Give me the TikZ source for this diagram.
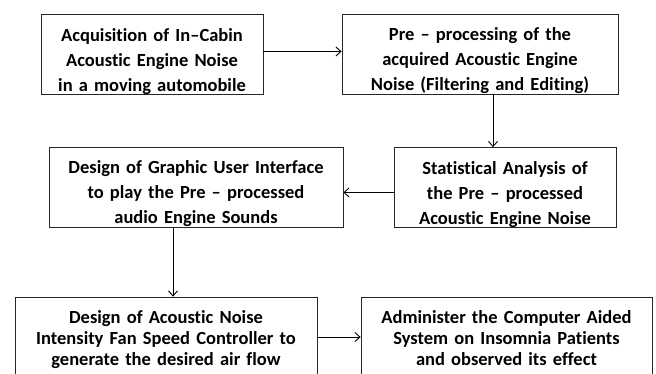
\documentclass[tikz,border=0pt]{standalone}
\usepackage{fontspec}
\setmainfont{Carlito}[Ligatures=NoCommon]
\usetikzlibrary{arrows.meta}
\tikzset{
  stage/.style={draw=black!85, line width=0.8pt, align=center, inner xsep=2pt, inner ysep=0pt,
    text height=27pt, text depth=53pt, font=\fontsize{18.5}{25}\selectfont\bfseries},
  flow/.style={->, line width=0.9pt, >={Straight Barb[length=5pt,width=9pt]}}
}
\begin{document}
\begin{tikzpicture}[x=1pt,y=1pt]
	\useasboundingbox (0,0) rectangle (656,374);
	\node[stage, text width=218pt] (acq) at (152,319.5) {Acquisition of In--Cabin\\ Acoustic Engine Noise\\ in a moving automobile};
	\node[stage, text width=272pt] (prep) at (480,320) {Pre -- processing of the\\ acquired Acoustic Engine\\ Noise (Filtering and Editing)};
	\node[stage, text width=290pt] (gui) at (196,187) {Design of Graphic User Interface\\ to play the Pre -- processed\\ audio Engine Sounds};
	\node[stage, text width=218pt] (stat) at (505,186.5) {Statistical Analysis of\\ the Pre -- processed\\ Acoustic Engine Noise};
	\node[stage, text width=298pt, font=\fontsize{18.5}{21}\selectfont\bfseries] (fan) at (166,37) {Design of Acoustic Noise\\ Intensity Fan Speed Controller to\\ generate the desired air flow};
	\node[stage, text width=287pt, font=\fontsize{18.5}{21}\selectfont\bfseries] (admin) at (506.5,37) {Administer the Computer Aided\\ System on Insomnia Patients\\ and observed its effect};
	\draw[flow] ([yshift=3pt]acq.east) -- ([yshift=3pt]acq.east -| prep.west);
	\draw[flow] ([xshift=13pt]prep.south) -- ([xshift=13pt]prep.south |- stat.north);
	\draw[flow] ([yshift=-5pt]stat.west) -- ([yshift=-5pt]stat.west -| gui.east);
	\draw[flow] ([xshift=-23pt]gui.south) -- ([xshift=-23pt]gui.south |- fan.north);
	\draw[flow] (fan.east) -- (admin.west);
\end{tikzpicture}
\end{document}
